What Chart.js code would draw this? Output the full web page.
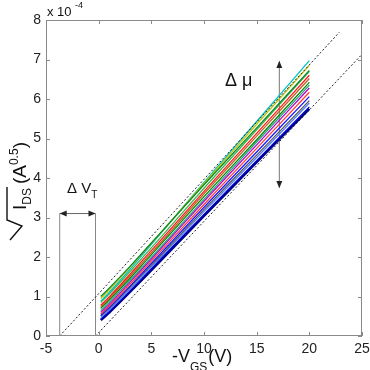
<!DOCTYPE html>
<html>
<head>
<meta charset="utf-8">
<script src="https://cdn.jsdelivr.net/npm/chart.js@4/dist/chart.umd.min.js"></script>
<style>
html,body{margin:0;padding:0;background:#fff;}
#caixa{width:370px;height:370px;}
</style>
</head>
<body>
<div id="caixa"><canvas id="grafico" width="370" height="370"></canvas></div>
<script>

"use strict";

/* =========================
   DADOS
========================= */

const vgs = [0.2, 1, 3, 6, 10, 15, 20];

const xTicks = [-5, 0, 5, 10, 15, 20, 25];
const yTicks = [0, 1, 2, 3, 4, 5, 6, 7, 8];

const curva1  = [1.00, 1.21, 1.77, 2.65, 3.83, 5.27, 6.72];
const curva2  = [0.95, 1.16, 1.75, 2.65, 3.86, 5.36, 6.85];
const curva3  = [0.88, 1.10, 1.70, 2.63, 3.89, 5.43, 6.97];
const curva4  = [0.85, 1.06, 1.64, 2.53, 3.74, 5.22, 6.70];
const curva5  = [0.78, 0.99, 1.57, 2.46, 3.66, 5.13, 6.60];
const curva6  = [0.74, 0.95, 1.52, 2.40, 3.60, 5.06, 6.52];
const curva7  = [0.70, 0.91, 1.47, 2.35, 3.53, 4.97, 6.42];
const curva8  = [0.64, 0.85, 1.41, 2.28, 3.46, 4.91, 6.35];
const curva9  = [0.60, 0.80, 1.37, 2.24, 3.41, 4.84, 6.28];
const curva10 = [0.56, 0.76, 1.32, 2.18, 3.33, 4.75, 6.17];
const curva11 = [0.52, 0.72, 1.27, 2.12, 3.26, 4.66, 6.06];
const curva12 = [0.50, 0.70, 1.24, 2.07, 3.20, 4.58, 5.96];
const curva13 = [0.46, 0.66, 1.19, 2.03, 3.15, 4.52, 5.90];
const curva14 = [0.43, 0.62, 1.15, 1.98, 3.08, 4.44, 5.80];
const curva15 = [0.40, 0.59, 1.12, 1.94, 3.04, 4.40, 5.75];

const retaSupX = [-3.7, 22.85];
const retaSupY = [0, 7.69];
const retaInfX = [-0.3, 25];
const retaInfY = [0, 7.13];

const vtX = [-3.7, -0.3];
const vtY = 3.1;
const muX = 17.15;
const muY = [3.75, 6.96];

/* =========================
   ESTILO
========================= */

const curvas = [curva1, curva2, curva3, curva4, curva5, curva6, curva7, curva8,
                curva9, curva10, curva11, curva12, curva13, curva14, curva15];

const cores = ["#0a8a2a", "#c4c400", "#00c0c0", "#3cb44b", "#ff1a1a", "#c0602a",
               "#008a00", "#2a9d8f", "#c000c0", "#ff3a3a", "#1a1aff", "#555555",
               "#4f7fff", "#0000d0", "#00008a"];

const fonte = "'Liberation Sans', Arial, sans-serif";

/* =========================
   MONTAR DATASETS
========================= */

function pontos(xs, ys){

    return xs.map(function(x, i){

        return { x: x, y: ys[i] };

    });

}

function montarDatasets(){

    const lista = [];

    lista.push({ data: pontos(retaSupX, retaSupY), borderColor: "#222", borderWidth: 1, borderDash: [2, 2] });
    lista.push({ data: pontos(retaInfX, retaInfY), borderColor: "#222", borderWidth: 1, borderDash: [2, 2] });

    curvas.forEach(function(c, i){

        lista.push({
            data: pontos(vgs, c),
            borderColor: cores[i],
            borderWidth: i === curvas.length - 1 ? 2.4 : 1.3,
            tension: 0.2
        });

    });

    lista.push({ data: pontos([vtX[0], vtX[0]], [0, vtY]), borderColor: "#888", borderWidth: 1 });
    lista.push({ data: pontos([vtX[1], vtX[1]], [0, vtY]), borderColor: "#888", borderWidth: 1 });
    lista.push({ data: pontos(vtX, [vtY, vtY]), borderColor: "#666", borderWidth: 1 });
    lista.push({ data: pontos([muX, muX], muY), borderColor: "#777", borderWidth: 1 });

    return lista;

}

/* =========================
   DECORACAO
========================= */

function seta(ctx, x, y, ang){

    ctx.save();
    ctx.translate(x, y);
    ctx.rotate(ang);
    ctx.beginPath();
    ctx.moveTo(0, 0);
    ctx.lineTo(-7, -3);
    ctx.lineTo(-7, 3);
    ctx.closePath();
    ctx.fillStyle = "#222";
    ctx.fill();
    ctx.restore();

}

const decoracao = {

    id: "decoracao",

    afterDraw: function(chart){

        const ctx = chart.ctx;
        const sx = chart.scales.x;
        const sy = chart.scales.y;
        const a = chart.chartArea;

        ctx.save();

        /* caixa e ticks para dentro */
        ctx.strokeStyle = "#8a8a8a";
        ctx.lineWidth = 1;
        ctx.strokeRect(a.left + 0.5, a.top + 0.5, a.right - a.left - 1, a.bottom - a.top - 1);

        ctx.beginPath();
        xTicks.forEach(function(v){
            const p = Math.round(sx.getPixelForValue(v)) + 0.5;
            ctx.moveTo(p, a.bottom); ctx.lineTo(p, a.bottom - 4);
            ctx.moveTo(p, a.top); ctx.lineTo(p, a.top + 4);
        });
        yTicks.forEach(function(v){
            const p = Math.round(sy.getPixelForValue(v)) + 0.5;
            ctx.moveTo(a.left, p); ctx.lineTo(a.left + 4, p);
            ctx.moveTo(a.right, p); ctx.lineTo(a.right - 4, p);
        });
        ctx.stroke();

        /* setas */
        seta(ctx, sx.getPixelForValue(vtX[0]), sy.getPixelForValue(vtY), Math.PI);
        seta(ctx, sx.getPixelForValue(vtX[1]), sy.getPixelForValue(vtY), 0);
        seta(ctx, sx.getPixelForValue(muX), sy.getPixelForValue(muY[1]), -Math.PI / 2);
        seta(ctx, sx.getPixelForValue(muX), sy.getPixelForValue(muY[0]), Math.PI / 2);

        ctx.fillStyle = "#111";
        ctx.textBaseline = "alphabetic";

        /* rotulos delta */
        ctx.font = "18px " + fonte;
        ctx.textAlign = "center";
        ctx.fillText("\u0394 \u03bc", sx.getPixelForValue(13.3), sy.getPixelForValue(6.33));

        ctx.textAlign = "left";
        let px = sx.getPixelForValue(-3.0);
        const py = sy.getPixelForValue(3.62);
        ctx.font = "15px " + fonte;
        ctx.fillText("\u0394 V", px, py);
        px += ctx.measureText("\u0394 V").width;
        ctx.font = "10px " + fonte;
        ctx.fillText("T", px, py + 5);

        /* escala x 10^-4 */
        ctx.font = "13px " + fonte;
        ctx.fillText("x 10", 47, 16);
        ctx.font = "9px " + fonte;
        ctx.fillText("-4", 75, 8);

        /* titulo x */
        let tx = 172;
        ctx.font = "18px " + fonte;
        ctx.fillText("-V", tx, 362);
        tx += ctx.measureText("-V").width;
        ctx.font = "12px " + fonte;
        ctx.fillText("GS", tx, 371);
        tx += ctx.measureText("GS").width + 1;
        ctx.font = "18px " + fonte;
        ctx.fillText("(V)", tx, 362);

        /* titulo y */
        ctx.save();
        ctx.translate(26, 210);
        ctx.rotate(-Math.PI / 2);
        let ux = 0;
        ctx.font = "19px " + fonte;
        ctx.fillText("I", ux, 0);
        ux += ctx.measureText("I").width;
        ctx.font = "12px " + fonte;
        ctx.fillText("DS", ux, 5);
        ux += ctx.measureText("DS").width;
        const fimBarra = ux + 1;
        ux += 4;
        ctx.font = "19px " + fonte;
        ctx.fillText("(A", ux, 0);
        ux += ctx.measureText("(A").width;
        ctx.font = "12px " + fonte;
        ctx.fillText("0.5", ux, -8);
        ux += ctx.measureText("0.5").width;
        ctx.font = "19px " + fonte;
        ctx.fillText(")", ux, 0);

        ctx.strokeStyle = "#111";
        ctx.lineWidth = 1.4;
        ctx.beginPath();
        ctx.moveTo(fimBarra, -19);
        ctx.lineTo(-10, -19);
        ctx.lineTo(-16, -4);
        ctx.lineTo(-30, -16);
        ctx.stroke();
        ctx.restore();

        ctx.restore();

    }

};

/* =========================
   GRAFICO
========================= */

function iniciarGrafico(){

    const canvas = document.getElementById("grafico");

    new Chart(canvas, {

        type: "line",

        data: { datasets: montarDatasets() },

        options: {

            responsive: false,
            animation: false,
            devicePixelRatio: 1,

            layout: { padding: { top: 20, right: 8, left: 0, bottom: 0 } },

            elements: { point: { radius: 0 } },

            plugins: {
                legend: { display: false },
                tooltip: { enabled: false }
            },

            scales: {

                x: {
                    type: "linear",
                    min: xTicks[0],
                    max: xTicks[xTicks.length - 1],
                    afterBuildTicks: function(s){ s.ticks = xTicks.map(function(v){ return { value: v }; }); },
                    afterFit: function(s){ s.height = 34; s.paddingLeft = 0; s.paddingRight = 0; },
                    grid: { display: false, drawTicks: false },
                    border: { display: false },
                    ticks: { color: "#222", padding: 5, font: { size: 14, family: fonte }, maxRotation: 0 }
                },

                y: {
                    type: "linear",
                    min: yTicks[0],
                    max: yTicks[yTicks.length - 1],
                    afterBuildTicks: function(s){ s.ticks = yTicks.map(function(v){ return { value: v }; }); },
                    afterFit: function(s){ s.width = 46; s.paddingTop = 0; s.paddingBottom = 0; },
                    grid: { display: false, drawTicks: false },
                    border: { display: false },
                    ticks: { color: "#222", padding: 5, font: { size: 14, family: fonte } }
                }

            }

        },

        plugins: [decoracao]

    });

}

iniciarGrafico();

</script>
</body>
</html>
